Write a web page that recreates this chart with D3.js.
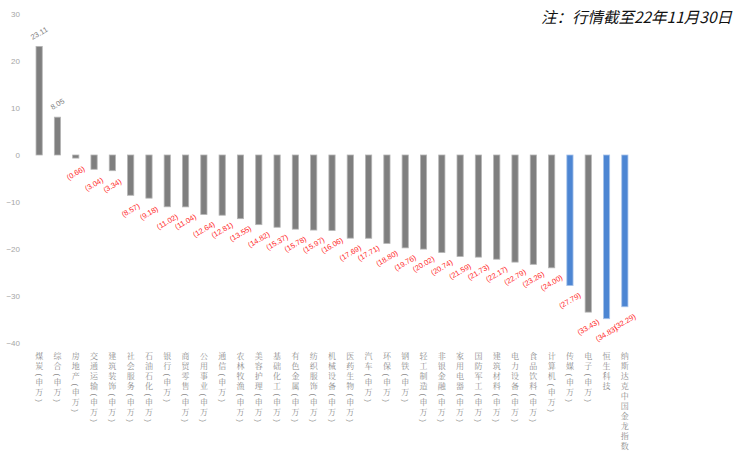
<!DOCTYPE html>
<html>
<head>
<meta charset="utf-8">
<script src="https://cdn.jsdelivr.net/npm/d3@7"></script>
<style>
  html, body { margin: 0; padding: 0; background: #fff; }
  svg { display: block; }
</style>
</head>
<body>
<svg id="chart" width="737" height="453"></svg>
<script>
// Index / sector returns (%) through 2022-11-30
const categories = [
  "煤炭(申万)", "综合(申万)", "房地产(申万)", "交通运输(申万)", "建筑装饰(申万)",
  "社会服务(申万)", "石油石化(申万)", "银行(申万)", "商贸零售(申万)", "公用事业(申万)",
  "通信(申万)", "农林牧渔(申万)", "美容护理(申万)", "基础化工(申万)", "有色金属(申万)",
  "纺织服饰(申万)", "机械设备(申万)", "医药生物(申万)", "汽车(申万)", "环保(申万)",
  "钢铁(申万)", "轻工制造(申万)", "非银金融(申万)", "家用电器(申万)", "国防军工(申万)",
  "建筑材料(申万)", "电力设备(申万)", "食品饮料(申万)", "计算机(申万)", "传媒(申万)",
  "电子(申万)", "恒生科技", "纳斯达克中国金龙指数"
];
const values = [
  23.11, 8.05, -0.66, -3.04, -3.34,
  -8.57, -9.18, -11.02, -11.04, -12.64,
  -12.81, -13.55, -14.82, -15.37, -15.78,
  -15.97, -16.06, -17.69, -17.71, -18.80,
  -19.76, -20.02, -20.74, -21.59, -21.73,
  -22.17, -22.79, -23.26, -24.00, -27.79,
  -33.43, -34.83, -32.29
];
// Highlighted bars
const highlighted = ["传媒(申万)", "恒生科技", "纳斯达克中国金龙指数"];
const yTicks = [-40, -30, -20, -10, 0, 10, 20, 30];
const note = "注：行情截至22年11月30日";

const data = categories.map((c, i) => ({ name: c, value: values[i] }));

const svg = d3.select("#chart");

const x = d3.scaleBand()
  .domain(categories)
  .range([30, 634])
  .paddingInner(0.66)
  .paddingOuter(0.33);

const y = d3.scaleLinear()
  .domain([-40, 30])
  .range([343, 14]);

// Y axis: labels only
const yAxis = svg.append("g")
  .attr("transform", "translate(22,0)")
  .call(d3.axisLeft(y).tickValues(yTicks).tickSize(0).tickPadding(2));
yAxis.select(".domain").remove();
yAxis.selectAll("text")
  .attr("fill", "#a6a6a6")
  .style("font-family", "'Liberation Sans', Arial, sans-serif")
  .style("font-size", "8px");

// Bars
svg.append("g").selectAll("rect")
  .data(data)
  .join("rect")
  .attr("x", d => x(d.name))
  .attr("width", x.bandwidth())
  .attr("y", d => y(Math.max(0, d.value)))
  .attr("height", d => Math.abs(y(d.value) - y(0)))
  .attr("fill", d => highlighted.includes(d.name) ? "#4d86d3" : "#7f7f7f")
  .attr("stroke", d => highlighted.includes(d.name) ? "#a9c4ea" : "#b5b5b5")
  .attr("stroke-width", 0.8);

// Value labels, rotated
const fmt = d3.format(".2f");
svg.append("g").selectAll("text")
  .data(data)
  .join("text")
  .attr("transform", d => {
    const cx = x(d.name) + x.bandwidth() / 2;
    const cy = d.value >= 0 ? y(d.value) - 13 : y(d.value) + 15;
    return `translate(${cx},${cy}) rotate(-30)`;
  })
  .attr("text-anchor", "middle")
  .attr("dominant-baseline", "central")
  .attr("fill", d => d.value >= 0 ? "#808080" : "#ff2a2a")
  .style("font-family", "'Liberation Sans', Arial, sans-serif")
  .style("font-size", "7.5px")
  .text(d => d.value >= 0 ? fmt(d.value) : `(${fmt(-d.value)})`);

// Category labels, stacked top to bottom; brackets are turned sideways
const catG = svg.append("g");
data.forEach(d => {
  const cx = x(d.name) + x.bandwidth() / 2;
  let top = 352;
  Array.from(d.name).forEach(ch => {
    const isBracket = ch === "(" || ch === ")";
    if (isBracket) {
      const cy = top + 2.9;
      catG.append("text")
        .attr("x", cx)
        .attr("y", cy)
        .attr("transform", `rotate(90,${cx},${cy})`)
        .attr("text-anchor", "middle")
        .attr("dominant-baseline", "central")
        .attr("fill", "#8c8c8c")
        .style("font-family", "'Liberation Sans', Arial, sans-serif")
        .style("font-size", "8px")
        .text(ch);
      top += 5.8;
    } else {
      catG.append("text")
        .attr("x", cx)
        .attr("y", top + 6.8)
        .attr("text-anchor", "middle")
        .attr("fill", "#8c8c8c")
        .style("font-family", "'Noto Serif CJK SC', 'Noto Sans CJK SC', serif")
        .style("font-size", "8px")
        .text(ch);
      top += 10;
    }
  });
});

// Note
svg.append("text")
  .attr("x", 732)
  .attr("y", 23)
  .attr("text-anchor", "end")
  .attr("fill", "#111")
  .style("font-family", "'Noto Sans CJK SC', sans-serif")
  .style("font-style", "italic")
  .style("font-size", "15.5px")
  .text(note);
</script>
</body>
</html>
